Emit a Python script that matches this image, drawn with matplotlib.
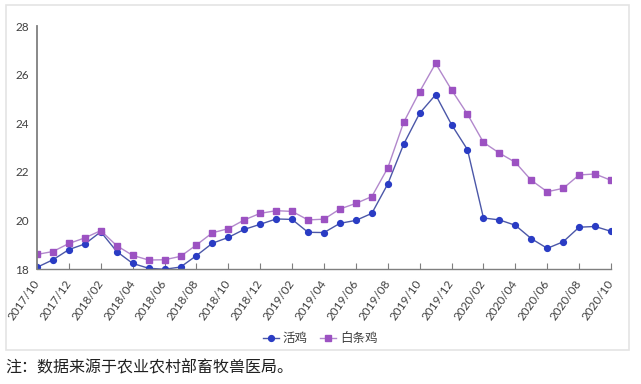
import matplotlib.pyplot as plt
import matplotlib.transforms as mtransforms
import numpy as np

plt.rcParams['font.family'] = ['Lato', 'Noto Sans CJK SC', 'DejaVu Sans']

months = ["2017/10", "2017/11", "2017/12", "2018/01", "2018/02", "2018/03",
          "2018/04", "2018/05", "2018/06", "2018/07", "2018/08", "2018/09",
          "2018/10", "2018/11", "2018/12", "2019/01", "2019/02", "2019/03",
          "2019/04", "2019/05", "2019/06", "2019/07", "2019/08", "2019/09",
          "2019/10", "2019/11", "2019/12", "2020/01", "2020/02", "2020/03",
          "2020/04", "2020/05", "2020/06", "2020/07", "2020/08", "2020/09",
          "2020/10"]

# 活鸡
huoji = [18.07, 18.38, 18.8, 19.03, 19.53, 18.72, 18.23, 18.03, 17.99, 18.08,
         18.55, 19.06, 19.3, 19.63, 19.84, 20.06, 20.04, 19.51, 19.5, 19.88,
         20.0, 20.29, 21.5, 23.14, 24.41, 25.17, 23.94, 22.91, 20.1, 20.02,
         19.8, 19.25, 18.85, 19.12, 19.72, 19.75, 19.55]

# 白条鸡
baitiaoji = [18.6, 18.72, 19.05, 19.28, 19.58, 18.96, 18.56, 18.37, 18.38, 18.52,
             18.99, 19.49, 19.66, 20.02, 20.29, 20.4, 20.37, 20.02, 20.05, 20.47,
             20.7, 20.98, 22.16, 24.04, 25.3, 26.46, 25.37, 24.37, 23.21, 22.77,
             22.39, 21.65, 21.18, 21.32, 21.87, 21.91, 21.65]

x = np.arange(len(months))

fig = plt.figure(figsize=(6.41, 3.84), dpi=100)
ax = fig.add_axes([37/641, 1-269/384, (611-37)/641, (269-26)/384])

# light frame around the chart
frame = plt.Rectangle((6/641, 1-350/384), (629-6)/641, (350-5)/384,
                      transform=fig.transFigure, fill=False,
                      edgecolor='#e4e4e4', linewidth=1.2)
fig.patches.append(frame)

ax.plot(x, huoji, color='#4b57a8', linewidth=1.0, marker='o', markersize=4.2,
        markerfacecolor='#2a3cc4', markeredgecolor='#2a3cc4', label='活鸡')
ax.plot(x, baitiaoji, color='#b288cc', linewidth=1.0, marker='s', markersize=4.0,
        markerfacecolor='#9c52c2', markeredgecolor='#9c52c2', label='白条鸡')

ax.set_xlim(0, len(months) - 1)
ax.set_ylim(18, 28)
ax.set_yticks([18, 20, 22, 24, 26, 28])
ax.set_xticks(x[::2])
ax.set_xticklabels(months[::2], rotation=55, ha='right', va='center',
                   rotation_mode='anchor')
shift = mtransforms.ScaledTranslation(5/100, 0, fig.dpi_scale_trans)
for lbl in ax.get_xticklabels():
    lbl.set_transform(lbl.get_transform() + shift)

for s in ['top', 'right']:
    ax.spines[s].set_visible(False)
ax.spines['left'].set_color('#7f7f7f')
ax.spines['left'].set_linewidth(1.3)
ax.spines['bottom'].set_color('#7f7f7f')
ax.spines['bottom'].set_linewidth(1.0)

ax.tick_params(axis='y', length=0, pad=6, labelsize=8.5, labelcolor='#404040')
ax.tick_params(axis='x', direction='in', length=4, color='#7f7f7f',
               pad=9, labelsize=8.5, labelcolor='#404040')

fig.legend(loc='center', bbox_to_anchor=(320/641, 1-338/384), ncol=2,
           frameon=False, fontsize=9, handlelength=1.3, columnspacing=1.0,
           handletextpad=0.3, labelcolor='#404040')

fig.text(5/641, 1-368/384, '注：数据来源于农业农村部畜牧兽医局。',
         fontsize=11.5, va='center', ha='left', color='#202020',
         family=['Noto Sans CJK SC', 'DejaVu Sans'])

fig.savefig('out.png', dpi=100)
